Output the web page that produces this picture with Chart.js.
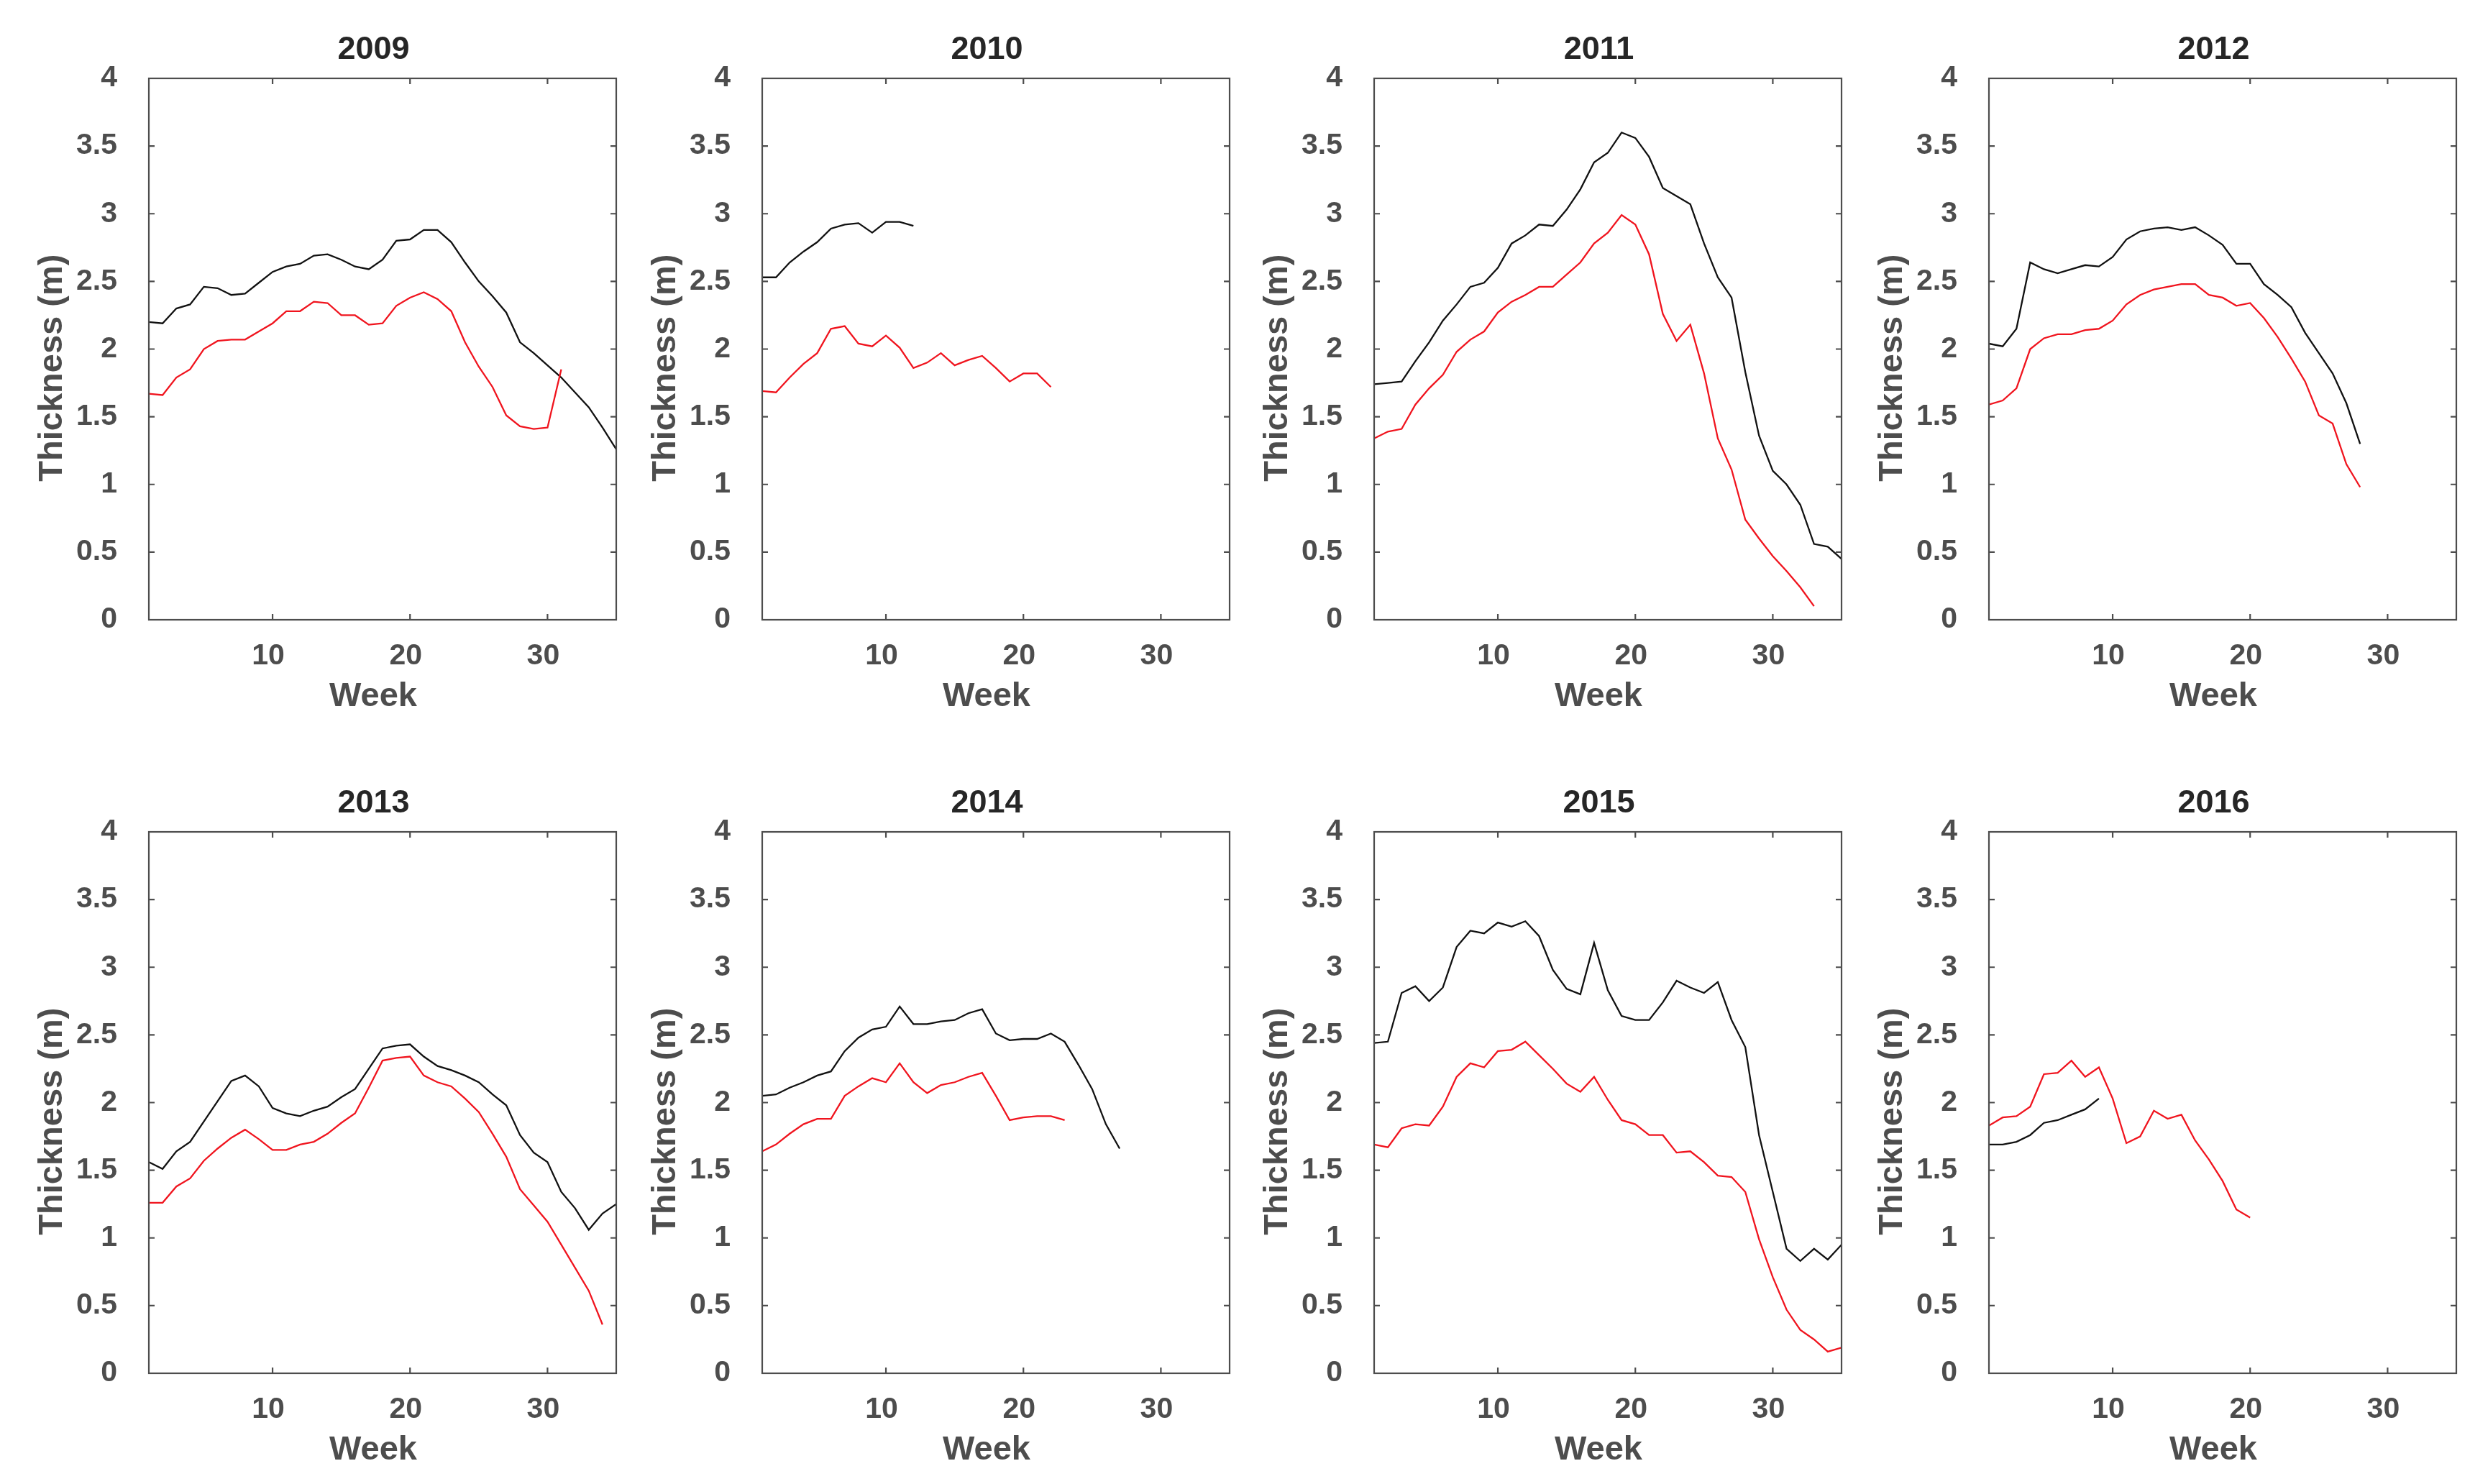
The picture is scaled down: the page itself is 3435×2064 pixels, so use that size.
<!DOCTYPE html>
<html>
<head>
<meta charset="utf-8">
<script src="https://cdn.jsdelivr.net/npm/chart.js@4.4.1/dist/chart.umd.min.js"></script>
<style>
  body { margin: 0; background: #fff; }
  #wrap { position: relative; width: 3435px; height: 2064px; background: #fff; overflow: hidden; }
  canvas { position: absolute; }
</style>
</head>
<body>
<div id="wrap"></div>
<script>
// years shown, one panel each
var years = ['2009', '2010', '2011', '2012', '2013', '2014', '2015', '2016'];

// tick labels
var weekTicks = [10, 20, 30];
var thickTicks = [0, 0.5, 1, 1.5, 2, 2.5, 3, 3.5, 4];

// weekly values, starting at week 1 (black and red lines)
var black2009 = [2.20, 2.19, 2.30, 2.33, 2.46, 2.45, 2.40, 2.41, 2.49, 2.57, 2.61, 2.63, 2.69, 2.70, 2.66, 2.61, 2.59, 2.66, 2.80, 2.81, 2.88, 2.88, 2.79, 2.64, 2.50, 2.39, 2.27, 2.05, 1.97, 1.88, 1.79, 1.68, 1.57, 1.42, 1.26];
var red2009 = [1.67, 1.66, 1.79, 1.85, 2.00, 2.06, 2.07, 2.07, 2.13, 2.19, 2.28, 2.28, 2.35, 2.34, 2.25, 2.25, 2.18, 2.19, 2.32, 2.38, 2.42, 2.37, 2.28, 2.05, 1.87, 1.72, 1.51, 1.43, 1.41, 1.42, 1.85];

var black2010 = [2.53, 2.53, 2.64, 2.72, 2.79, 2.89, 2.92, 2.93, 2.86, 2.94, 2.94, 2.91];
var red2010 = [1.69, 1.68, 1.79, 1.89, 1.97, 2.15, 2.17, 2.04, 2.02, 2.10, 2.01, 1.86, 1.90, 1.97, 1.88, 1.92, 1.95, 1.86, 1.76, 1.82, 1.82, 1.72];

var black2011 = [1.74, 1.75, 1.76, 1.91, 2.05, 2.21, 2.33, 2.46, 2.49, 2.60, 2.78, 2.84, 2.92, 2.91, 3.03, 3.18, 3.38, 3.45, 3.60, 3.56, 3.42, 3.19, 3.13, 3.07, 2.78, 2.53, 2.38, 1.83, 1.36, 1.10, 1.00, 0.85, 0.56, 0.54, 0.45];
var red2011 = [1.34, 1.39, 1.41, 1.59, 1.71, 1.81, 1.98, 2.07, 2.13, 2.27, 2.35, 2.40, 2.46, 2.46, 2.55, 2.64, 2.78, 2.86, 2.99, 2.92, 2.70, 2.26, 2.06, 2.18, 1.82, 1.34, 1.11, 0.74, 0.60, 0.47, 0.36, 0.24, 0.10];

var black2012 = [2.04, 2.02, 2.15, 2.64, 2.59, 2.56, 2.59, 2.62, 2.61, 2.68, 2.81, 2.87, 2.89, 2.90, 2.88, 2.90, 2.84, 2.77, 2.63, 2.63, 2.48, 2.40, 2.31, 2.12, 1.97, 1.82, 1.60, 1.30];
var red2012 = [1.59, 1.62, 1.71, 2.00, 2.08, 2.11, 2.11, 2.14, 2.15, 2.21, 2.33, 2.40, 2.44, 2.46, 2.48, 2.48, 2.40, 2.38, 2.32, 2.34, 2.23, 2.09, 1.93, 1.76, 1.51, 1.45, 1.15, 0.98];

var black2013 = [1.56, 1.51, 1.64, 1.71, 1.86, 2.01, 2.16, 2.20, 2.12, 1.96, 1.92, 1.90, 1.94, 1.97, 2.04, 2.10, 2.25, 2.40, 2.42, 2.43, 2.34, 2.27, 2.24, 2.20, 2.15, 2.06, 1.98, 1.76, 1.63, 1.56, 1.34, 1.22, 1.06, 1.18, 1.25];
var red2013 = [1.26, 1.26, 1.38, 1.44, 1.57, 1.66, 1.74, 1.80, 1.73, 1.65, 1.65, 1.69, 1.71, 1.77, 1.85, 1.92, 2.11, 2.31, 2.33, 2.34, 2.20, 2.15, 2.12, 2.03, 1.93, 1.77, 1.60, 1.36, 1.24, 1.12, 0.95, 0.78, 0.61, 0.36];

var black2014 = [2.05, 2.06, 2.11, 2.15, 2.20, 2.23, 2.38, 2.48, 2.54, 2.56, 2.71, 2.58, 2.58, 2.60, 2.61, 2.66, 2.69, 2.51, 2.46, 2.47, 2.47, 2.51, 2.45, 2.28, 2.10, 1.84, 1.66];
var red2014 = [1.64, 1.69, 1.77, 1.84, 1.88, 1.88, 2.05, 2.12, 2.18, 2.15, 2.29, 2.15, 2.07, 2.13, 2.15, 2.19, 2.22, 2.05, 1.87, 1.89, 1.90, 1.90, 1.87];

var black2015 = [2.44, 2.45, 2.81, 2.86, 2.75, 2.85, 3.15, 3.27, 3.25, 3.33, 3.30, 3.34, 3.23, 2.98, 2.84, 2.80, 3.18, 2.83, 2.64, 2.61, 2.61, 2.74, 2.90, 2.85, 2.81, 2.89, 2.61, 2.41, 1.76, 1.34, 0.92, 0.83, 0.92, 0.84, 0.95];
var red2015 = [1.69, 1.67, 1.81, 1.84, 1.83, 1.97, 2.19, 2.29, 2.26, 2.38, 2.39, 2.45, 2.35, 2.25, 2.14, 2.08, 2.19, 2.02, 1.87, 1.84, 1.76, 1.76, 1.63, 1.64, 1.56, 1.46, 1.45, 1.34, 0.99, 0.71, 0.47, 0.32, 0.25, 0.16, 0.19];

var black2016 = [1.69, 1.69, 1.71, 1.76, 1.85, 1.87, 1.91, 1.95, 2.03];
var red2016 = [1.83, 1.89, 1.90, 1.97, 2.21, 2.22, 2.31, 2.19, 2.26, 2.03, 1.70, 1.75, 1.94, 1.88, 1.91, 1.72, 1.58, 1.42, 1.21, 1.15];

var blackSeries = [black2009, black2010, black2011, black2012, black2013, black2014, black2015, black2016];
var redSeries = [red2009, red2010, red2011, red2012, red2013, red2014, red2015, red2016];

// panel placement (plot area corners in page pixels)
var plotLefts = [207, 1060, 1911, 2766];
var plotTops = [109, 1157];
var plotW = 650, plotH = 753;
var padLeft = 200, padTop = 109, padBottom = 140, padRight = 10;

var fontFamily = '"Liberation Sans", Arial, Helvetica, sans-serif';
var axisGray = '#4d4d4d';
var nb = '\u00a0';

function toPoints(vals) {
    return vals.map(function (v, i) { return { x: i + 1, y: v }; });
}

// box round the plot plus inward tick marks on all four sides
var boxTicks = {
    id: 'boxTicks',
    afterDraw: function (chart) {
        var ctx = chart.ctx;
        var a = chart.chartArea;
        var xs = chart.scales.x, ys = chart.scales.y;
        var len = 8;
        ctx.save();
        ctx.strokeStyle = axisGray;
        ctx.lineWidth = 2.2;
        ctx.beginPath();
        xs.ticks.forEach(function (t) {
            var px = xs.getPixelForValue(t.value);
            ctx.moveTo(px, a.bottom); ctx.lineTo(px, a.bottom - len);
            ctx.moveTo(px, a.top); ctx.lineTo(px, a.top + len);
        });
        ys.ticks.forEach(function (t) {
            var py = ys.getPixelForValue(t.value);
            ctx.moveTo(a.left, py); ctx.lineTo(a.left + len, py);
            ctx.moveTo(a.right, py); ctx.lineTo(a.right - len, py);
        });
        ctx.stroke();
        ctx.strokeRect(a.left, a.top, a.right - a.left, a.bottom - a.top);
        ctx.restore();
    }
};

var wrap = document.getElementById('wrap');

years.forEach(function (year, i) {
    var col = i % 4, row = Math.floor(i / 4);
    var canvas = document.createElement('canvas');
    var cw = padLeft + plotW + padRight;
    var ch = padTop + plotH + padBottom;
    canvas.width = cw;
    canvas.height = ch;
    canvas.style.width = cw + 'px';
    canvas.style.height = ch + 'px';
    canvas.style.left = (plotLefts[col] - padLeft) + 'px';
    canvas.style.top = (plotTops[row] - padTop) + 'px';
    wrap.appendChild(canvas);

    new Chart(canvas.getContext('2d'), {
        type: 'line',
        data: {
            datasets: [{
                data: toPoints(redSeries[i]),
                borderColor: '#f0141e',
                borderWidth: 2.3,
                pointRadius: 0,
                tension: 0
            }, {
                data: toPoints(blackSeries[i]),
                borderColor: '#111111',
                borderWidth: 2.3,
                pointRadius: 0,
                tension: 0
            }]
        },
        options: {
            responsive: false,
            animation: false,
            devicePixelRatio: 1,
            layout: { padding: { left: 0, right: padRight, top: 0, bottom: 0 } },
            plugins: {
                legend: { display: false },
                tooltip: { enabled: false },
                title: {
                    display: true,
                    fullSize: false,
                    text: year + nb + nb,
                    color: '#262626',
                    font: { family: fontFamily, size: 45, weight: 'bold', lineHeight: 1.2 },
                    padding: { top: 43, bottom: 12 }
                }
            },
            scales: {
                x: {
                    type: 'linear',
                    min: 1,
                    max: 35,
                    afterBuildTicks: function (s) { s.ticks = weekTicks.map(function (v) { return { value: v }; }); },
                    afterFit: function (s) { s.height = padBottom; },
                    grid: { display: false },
                    border: { display: false },
                    ticks: {
                        color: axisGray,
                        padding: 22,
                        maxRotation: 0,
                        labelOffset: -6,
                        font: { family: fontFamily, size: 41, weight: 'bold', lineHeight: 1 },
                        callback: function (v) { return String(v); }
                    },
                    title: {
                        display: true,
                        text: 'Week' + nb + nb,
                        color: axisGray,
                        font: { family: fontFamily, size: 47, weight: 'bold', lineHeight: 1 },
                        padding: { top: 0, bottom: 9.5 }
                    }
                },
                y: {
                    type: 'linear',
                    min: 0,
                    max: 4,
                    afterBuildTicks: function (s) { s.ticks = thickTicks.map(function (v) { return { value: v }; }); },
                    afterFit: function (s) { s.width = padLeft; },
                    grid: { display: false },
                    border: { display: false },
                    ticks: {
                        color: axisGray,
                        padding: 36,
                        font: { family: fontFamily, size: 41, weight: 'bold', lineHeight: 1 },
                        callback: function (v) { return String(v); }
                    },
                    title: {
                        display: true,
                        text: 'Thickness (m)' + nb + nb + nb + nb,
                        color: axisGray,
                        font: { family: fontFamily, size: 47, weight: 'bold', lineHeight: 1 },
                        padding: { top: 42.5, bottom: 0 }
                    }
                }
            }
        },
        plugins: [boxTicks]
    });
});
</script>
</body>
</html>
